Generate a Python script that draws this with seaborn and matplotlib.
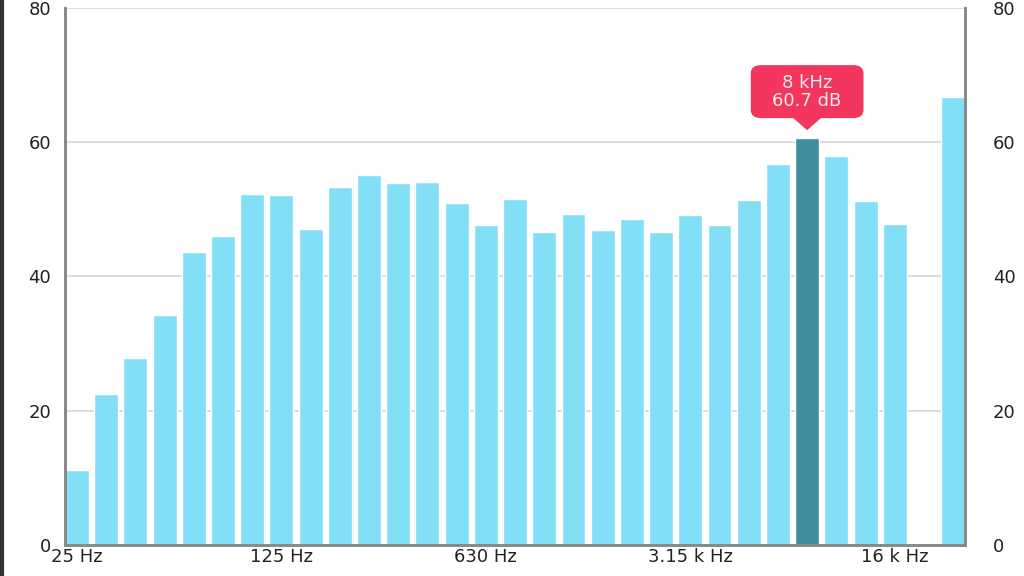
import matplotlib.pyplot as plt
import seaborn as sns
import pandas as pd
from matplotlib.patches import FancyBboxPatch, Polygon
from matplotlib.lines import Line2D

# third-octave bands (last bar is the overall level, no label)
bands = ['25 Hz', '31.5 Hz', '40 Hz', '50 Hz', '63 Hz', '80 Hz', '100 Hz', '125 Hz',
         '160 Hz', '200 Hz', '250 Hz', '315 Hz', '400 Hz', '500 Hz', '630 Hz', '800 Hz',
         '1 k Hz', '1.25 k Hz', '1.6 k Hz', '2 k Hz', '2.5 k Hz', '3.15 k Hz', '4 k Hz',
         '5 k Hz', '6.3 k Hz', '8 k Hz', '10 k Hz', '12.5 k Hz', '16 k Hz', '20 k Hz', 'Total']
levels = [11.2, 22.5, 27.8, 34.2, 43.7, 46.0, 52.3, 52.1, 47.1, 53.3, 55.1, 54.0, 54.1,
          50.9, 47.6, 51.6, 46.7, 49.3, 46.9, 48.5, 46.7, 49.1, 47.7, 51.4, 56.8, 60.7,
          57.9, 51.3, 47.8, 0.0, 66.8]
shown_labels = ['25 Hz', '125 Hz', '630 Hz', '3.15 k Hz', '16 k Hz']
highlight = '8 kHz'
highlight_idx = 25

light = '#82dff5'
dark = '#3f8e9e'
red = '#f2365e'

df = pd.DataFrame({'band': bands, 'level': levels})
colors = [dark if i == highlight_idx else light for i in range(len(bands))]

sns.set_style('white')
plt.rcParams['font.family'] = ['DejaVu Sans']

fig = plt.figure(figsize=(10.24, 5.76), dpi=100)
ax = fig.add_axes([0.0635, 0.054, 0.879, 0.932])

sns.barplot(data=df, x='band', y='level', hue='band', palette=colors, legend=False,
            width=0.82, saturation=1, ax=ax, zorder=2)

ax.set_xlim(-0.41, len(bands) - 1 + 0.41)
ax.set_ylim(0, 80)
ax.set_yticks([0, 20, 40, 60, 80])
ax.yaxis.grid(True, color='#d6d6d6', linewidth=1.2, zorder=0)
ax.set_axisbelow(True)

ticks = [bands.index(b) for b in shown_labels]
ax.set_xticks(ticks)
ax.set_xticklabels(shown_labels)
ax.set_xlabel('')
ax.set_ylabel('')
ax.tick_params(axis='both', length=0, labelsize=13, colors='#222222')
ax.tick_params(axis='x', pad=2)
ax.tick_params(axis='y', pad=10)

ax2 = ax.twinx()
ax2.set_ylim(0, 80)
ax2.set_yticks([0, 20, 40, 60, 80])
ax2.tick_params(axis='y', length=0, labelsize=13, colors='#222222', pad=20)

for a in (ax, ax2):
    a.spines['top'].set_visible(False)
    for side in ('left', 'right', 'bottom'):
        a.spines[side].set_color('#8a8a8a')
        a.spines[side].set_linewidth(2)

# tooltip over the highlighted band
tx = highlight_idx
val = levels[highlight_idx]
box = FancyBboxPatch((tx - 1.93, 63.6), 3.86, 7.9,
                     boxstyle='round,pad=0,rounding_size=0.35',
                     facecolor=red, edgecolor='none', zorder=5,
                     mutation_aspect=3.5)
ax.add_patch(box)
ax.add_patch(Polygon([[tx - 0.5, 63.7], [tx + 0.5, 63.7], [tx, 61.8]],
                     closed=True, facecolor=red, edgecolor='none', zorder=5))
ax.text(tx, 67.5, f'{highlight}\n{val} dB', ha='center', va='center', color='#fbe9ee',
        fontsize=13, linespacing=1.05, zorder=6)

fig.add_artist(Line2D([0.002, 0.002], [0, 1], color='#333333', linewidth=3))

fig.savefig('out.png', dpi=100)
